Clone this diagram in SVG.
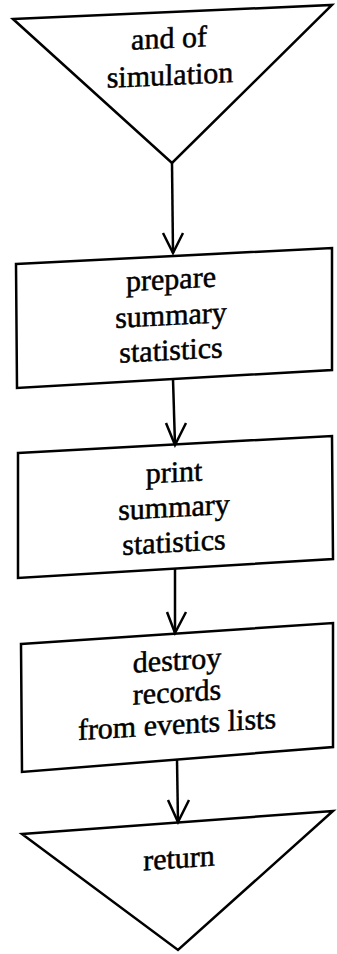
<svg xmlns="http://www.w3.org/2000/svg" width="337" height="954" viewBox="0 0 337 954">
<style>
.shape{fill:#fff;stroke:#000;stroke-width:2.5;stroke-linejoin:miter}
.edge{fill:none;stroke:#000;stroke-width:2.5}
.lbl text{font-family:"Liberation Serif","Times New Roman",serif;font-size:30px;fill:#000;stroke:#000;stroke-width:0.5;text-anchor:middle}
</style>
<rect width="337" height="954" fill="#fff"/>
<g id="start">
<polygon class="shape" points="13,19 332,5 172,163"/>
<g class="lbl" transform="translate(169,0) skewY(-2.6)"><text x="0" y="48">and of</text><text x="1" y="85">simulation</text></g>
</g>
<g id="prepare">
<polygon class="shape" points="16,264 332,248 332,370 17,388"/>
<g class="lbl" transform="translate(171,0) skewY(-3)"><text x="0" y="289">prepare</text><text x="0" y="325">summary</text><text x="0" y="360">statistics</text></g>
</g>
<g id="print">
<polygon class="shape" points="18,453 332,436 333,559 18,578"/>
<g class="lbl" transform="translate(174,0) skewY(-3.2)"><text x="0" y="482">print</text><text x="0" y="517">summary</text><text x="0" y="552">statistics</text></g>
</g>
<g id="destroy">
<polygon class="shape" points="21,644 333,623 333,747 22,772"/>
<g class="lbl" transform="translate(177,0) skewY(-3.5)"><text x="0" y="670">destroy</text><text x="0" y="702">records</text><text x="0" y="734">from events lists</text></g>
</g>
<g id="return">
<polygon class="shape" points="22,834 333,811 178,950"/>
<g class="lbl" transform="translate(179,0) skewY(-4)"><text x="0" y="868">return</text></g>
</g>
<g id="connectors">
<line class="edge" x1="172" y1="163" x2="173" y2="253"/>
<polyline class="edge" points="163,233 173,253 183,233"/>
<line class="edge" x1="173" y1="379" x2="175" y2="445"/>
<polyline class="edge" points="166,423 175,445 186,423"/>
<line class="edge" x1="175" y1="569" x2="175" y2="633"/>
<polyline class="edge" points="167,612 175,633 186,612"/>
<line class="edge" x1="177" y1="760" x2="178" y2="822"/>
<polyline class="edge" points="168,800 178,822 189,800"/>
</g>
</svg>
